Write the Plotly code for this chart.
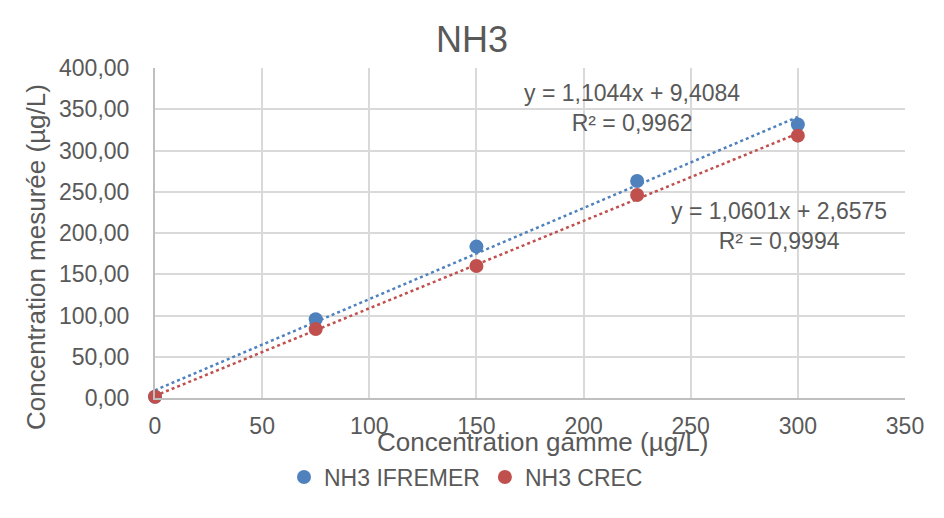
import numpy as np
import plotly.graph_objects as go

# Calibration data: nominal concentration vs measured concentration (µg/L)
gamme = [0, 75, 150, 225, 300]
ifremer = [1.5, 95.5, 183.5, 263.0, 331.5]
crec = [1.5, 83.5, 160.0, 246.0, 318.0]

# Linear trendline coefficients (slope, intercept) and R²
fit_ifremer = (1.1044, 9.4084, 0.9962)
fit_crec = (1.0601, 2.6575, 0.9994)

x_ticks = [0, 50, 100, 150, 200, 250, 300, 350]
y_ticks = [0, 50, 100, 150, 200, 250, 300, 350, 400]

BLUE = "#4F81BD"
RED = "#C0504D"
GRID = "#D9D9D9"
AXIS = "#BFBFBF"
TEXT = "#595959"
FONT = "Liberation Sans, Arial, sans-serif"

W, H = 944, 518
L, R, T, B = 155, 39, 68, 120
PH = H - T - B  # plot height in px


def fmt(v, nd=4):
    return f"{v:.{nd}f}".replace(".", ",")


def py(pixel_y):
    """Pixel row -> paper y (paper spans the plot area)."""
    return (H - B - pixel_y) / PH


def px(pixel_x):
    return (pixel_x - L) / (W - L - R)


fig = go.Figure()

# Dotted trendlines over the data range
x_line = np.array([gamme[0], gamme[-1]], dtype=float)
for (a, b, _), color in [(fit_ifremer, BLUE), (fit_crec, RED)]:
    fig.add_trace(go.Scatter(
        x=x_line, y=a * x_line + b, mode="lines",
        line=dict(color=color, width=2.5, dash="dot"),
        showlegend=False, hoverinfo="skip", cliponaxis=False,
    ))

fig.add_trace(go.Scatter(
    x=gamme, y=ifremer, mode="markers", name="NH3 IFREMER",
    marker=dict(color=BLUE, size=14), cliponaxis=False,
))
fig.add_trace(go.Scatter(
    x=gamme, y=crec, mode="markers", name="NH3 CREC",
    marker=dict(color=RED, size=14), cliponaxis=False,
))

annotations = []
for (a, b, r2), ax, ay in [(fit_ifremer, 222.5, 352), (fit_crec, 291.0, 208)]:
    annotations.append(dict(
        x=ax, y=ay, xref="x", yref="y", showarrow=False,
        text=f"y = {fmt(a)}x + {fmt(b)}<br>R² = {fmt(r2)}",
        font=dict(family=FONT, size=23, color=TEXT), align="center",
    ))

# Axis titles
annotations.append(dict(
    x=px(542), y=py(442), xref="paper", yref="paper",
    xanchor="center", yanchor="middle", showarrow=False,
    text="Concentration gamme (µg/L)",
    font=dict(family=FONT, size=26, color=TEXT),
))
annotations.append(dict(
    x=px(36), y=py(257), xref="paper", yref="paper",
    xanchor="center", yanchor="middle", showarrow=False, textangle=-90,
    text="Concentration mesurée (µg/L)",
    font=dict(family=FONT, size=26, color=TEXT),
))

fig.update_layout(
    width=W, height=H,
    margin=dict(l=L, r=R, t=T, b=B),
    paper_bgcolor="white", plot_bgcolor="white",
    separators=", ",
    title=dict(text="NH3", x=0.5, xanchor="center", y=1 - 39 / H,
               yanchor="middle", font=dict(family=FONT, size=36, color=TEXT)),
    xaxis=dict(
        range=[0, 350], tickvals=x_ticks, showgrid=True, gridcolor=GRID, gridwidth=1.5,
        showline=True, linecolor=AXIS, linewidth=2, zeroline=False,
        ticks="", ticklabelstandoff=6,
        tickfont=dict(family=FONT, size=23, color=TEXT),
    ),
    yaxis=dict(
        range=[0, 400], tickvals=y_ticks, tickformat=".2f", showgrid=True,
        gridcolor=GRID, gridwidth=1.5, showline=True, linecolor=AXIS, linewidth=2,
        zeroline=False, ticks="", ticklabelstandoff=19,
        tickfont=dict(family=FONT, size=23, color=TEXT),
    ),
    legend=dict(orientation="h", x=px(466), xanchor="center", y=py(477),
                yanchor="middle", font=dict(family=FONT, size=23, color=TEXT),
                itemwidth=30, bgcolor="rgba(0,0,0,0)"),
    annotations=annotations,
)

fig.write_html("out.html")
